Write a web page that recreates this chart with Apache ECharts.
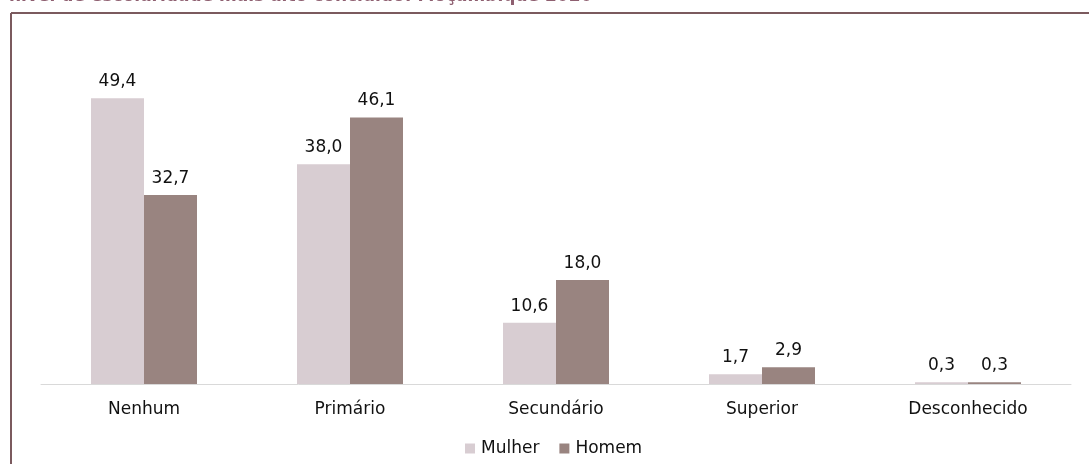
<!DOCTYPE html>
<html>
<head>
<meta charset="utf-8">
<script src="https://cdn.jsdelivr.net/npm/echarts@6/dist/echarts.min.js"></script>
<style>
html,body{margin:0;padding:0;background:#fff;}
#chart{width:1089px;height:464px;}
</style>
</head>
<body>
<div id="chart"></div>
<script>
const titleText = 'nível de escolaridade mais alto concluído: Moçambique 2020';
const categories = ['Nenhum', 'Primário', 'Secundário', 'Superior', 'Desconhecido'];
const seriesNames = ['Mulher', 'Homem'];
const mulher = [49.4, 38.0, 10.6, 1.7, 0.3];
const homem = [32.7, 46.1, 18.0, 2.9, 0.3];

const chart = echarts.init(document.getElementById('chart'), null, {renderer: 'canvas'});
const fontFam = '"DejaVu Sans", Verdana, sans-serif';
const labelCfg = {
  show: true,
  position: 'top',
  distance: 8,
  color: '#111',
  fontSize: 17,
  fontFamily: fontFam,
  formatter: p => p.value.toFixed(1).replace('.', ',')
};
chart.setOption({
  animation: false,
  backgroundColor: '#fff',
  graphic: [
    {type: 'text', left: 9, top: -12, style: {text: titleText, font: 'bold 17px ' + fontFam, fill: '#8e5f70'}},
    {type: 'line', shape: {x1: 11, y1: 13, x2: 1089, y2: 13}, style: {stroke: '#7b5a5e', lineWidth: 2}},
    {type: 'line', shape: {x1: 11, y1: 13, x2: 11, y2: 464}, style: {stroke: '#7b5a5e', lineWidth: 2}}
  ],
  legend: {
    data: seriesNames,
    bottom: 2,
    left: 460,
    itemWidth: 10,
    itemHeight: 10,
    itemGap: 20,
    icon: 'rect',
    textStyle: {fontSize: 17, fontFamily: fontFam, color: '#111', padding: [0, 0, 0, 1]}
  },
  grid: {left: 41, right: 18, top: 37, bottom: 80},
  xAxis: {
    type: 'category',
    data: categories,
    axisLine: {lineStyle: {color: '#d9d9d9', width: 1}},
    axisTick: {show: false},
    axisLabel: {fontSize: 17, fontFamily: fontFam, color: '#111', margin: 17}
  },
  yAxis: {type: 'value', min: 0, max: 60, show: false, splitLine: {show: false}},
  series: [
    {name: seriesNames[0], type: 'bar', data: mulher, barWidth: 53, barGap: '0%', itemStyle: {color: '#d8cdd2'}, label: labelCfg},
    {name: seriesNames[1], type: 'bar', data: homem, barWidth: 53, barGap: '0%', itemStyle: {color: '#998480'}, label: labelCfg}
  ]
});
</script>
</body>
</html>
